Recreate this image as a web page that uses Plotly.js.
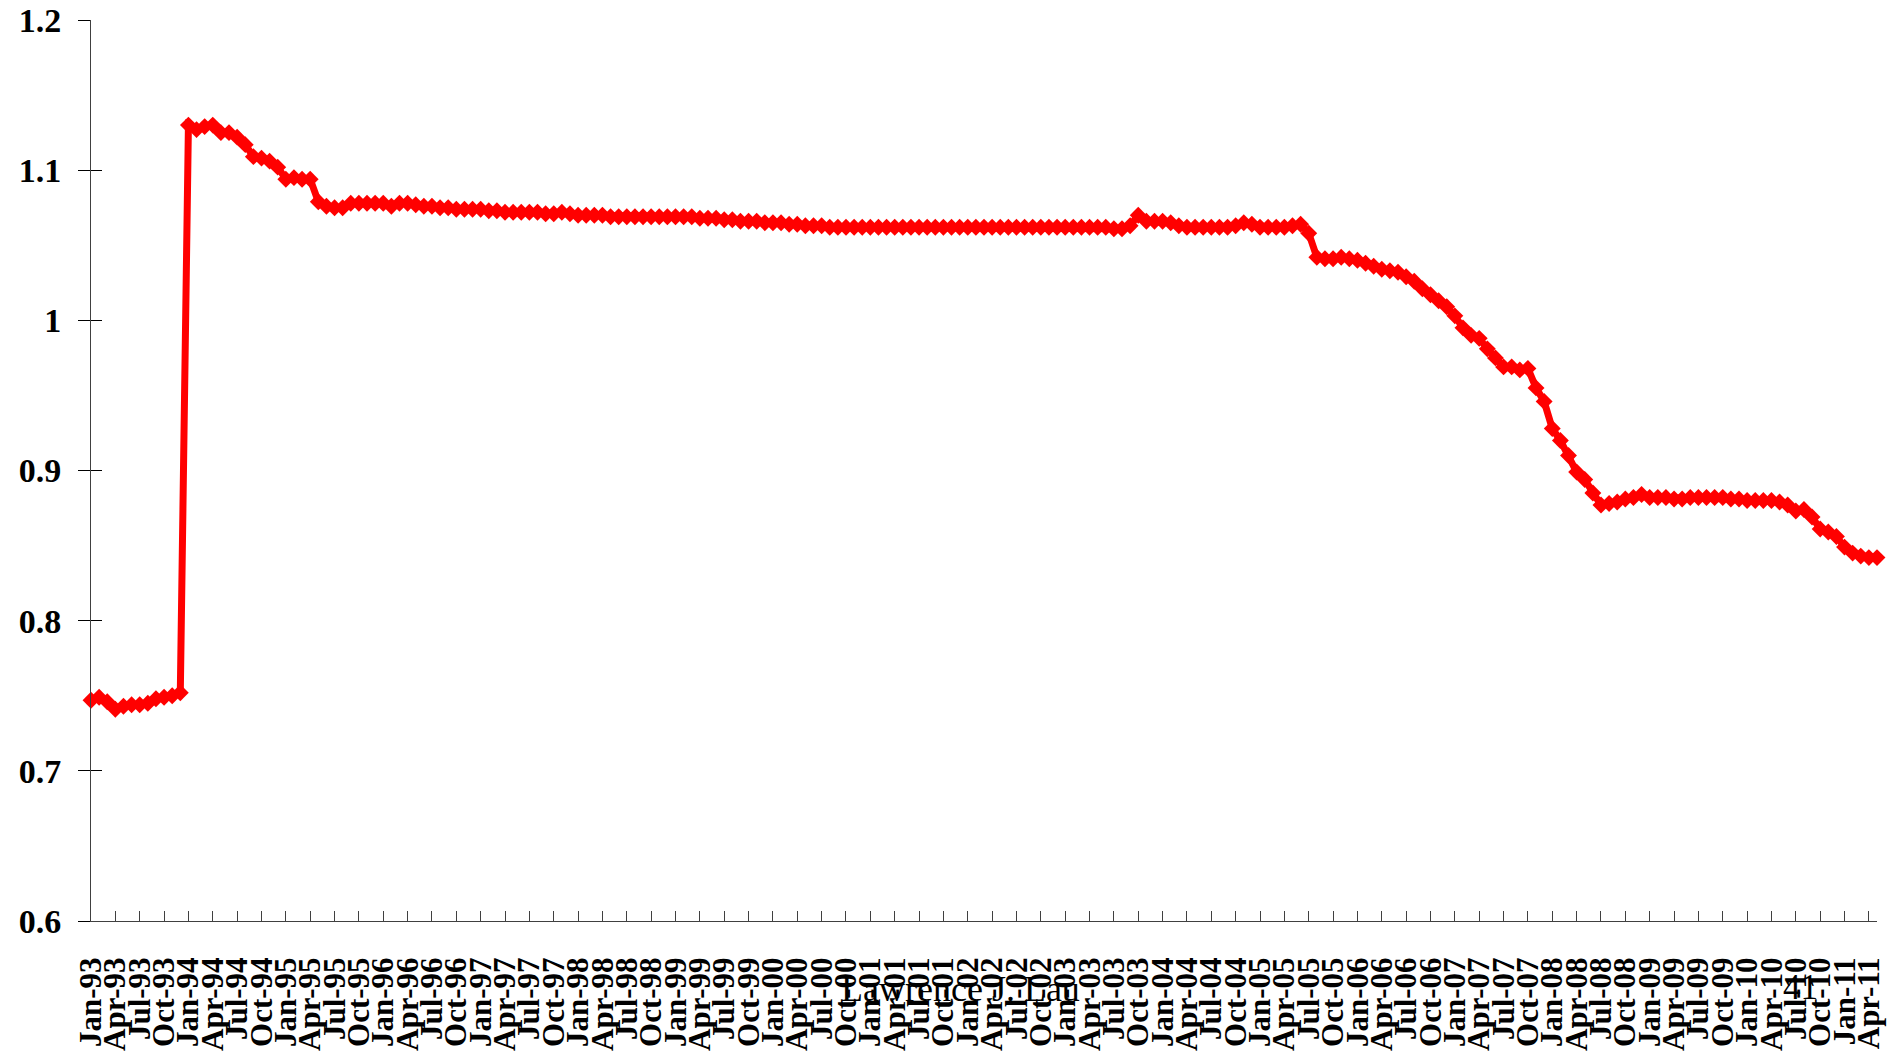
<!DOCTYPE html>
<html>
<head>
<meta charset="utf-8">
<script src="https://cdn.plot.ly/plotly-3.0.1.min.js"></script>
<style>html,body{margin:0;padding:0;background:#fff;}#chart{width:1895px;height:1051px;}</style>
</head>
<body>
<div id="chart"></div>
<script>
// Month labels (Jan-93 .. May-11)
const monthNames = ["Jan","Feb","Mar","Apr","May","Jun","Jul","Aug","Sep","Oct","Nov","Dec"];
const years = ["93","94","95","96","97","98","99","00","01","02","03","04","05","06","07","08","09","10","11"];
const lastYearMonths = 5;

// Series values by year (monthly)
const v1993 = [0.747,0.749,0.746,0.741,0.743,0.744,0.744,0.745,0.748,0.749,0.750,0.752];
const v1994 = [1.130,1.127,1.129,1.130,1.125,1.125,1.122,1.117,1.109,1.108,1.106,1.102];
const v1995 = [1.094,1.095,1.094,1.094,1.079,1.076,1.075,1.075,1.078,1.078,1.078,1.078];
const v1996 = [1.078,1.076,1.078,1.078,1.077,1.076,1.076,1.075,1.075,1.074,1.074,1.074];
const v1997 = [1.074,1.073,1.073,1.072,1.072,1.072,1.072,1.072,1.071,1.071,1.072,1.071];
const v1998 = [1.070,1.070,1.070,1.070,1.069,1.069,1.069,1.069,1.069,1.069,1.069,1.069];
const v1999 = [1.069,1.069,1.069,1.068,1.068,1.068,1.067,1.067,1.066,1.066,1.066,1.065];
const v2000 = [1.065,1.065,1.064,1.064,1.063,1.063,1.063,1.062,1.062,1.062,1.062,1.062];
const v2001 = [1.062,1.062,1.062,1.062,1.062,1.062,1.062,1.062,1.062,1.062,1.062,1.062];
const v2002 = [1.062,1.062,1.062,1.062,1.062,1.062,1.062,1.062,1.062,1.062,1.062,1.062];
const v2003 = [1.062,1.062,1.062,1.062,1.062,1.062,1.061,1.061,1.063,1.070,1.066,1.066];
const v2004 = [1.066,1.065,1.063,1.062,1.062,1.062,1.062,1.062,1.062,1.063,1.065,1.064];
const v2005 = [1.062,1.062,1.062,1.062,1.063,1.064,1.058,1.042,1.041,1.041,1.042,1.041];
const v2006 = [1.040,1.038,1.036,1.034,1.033,1.032,1.029,1.026,1.021,1.017,1.013,1.009];
const v2007 = [1.003,0.995,0.990,0.988,0.981,0.975,0.969,0.969,0.967,0.968,0.955,0.946];
const v2008 = [0.928,0.920,0.910,0.899,0.894,0.885,0.877,0.878,0.879,0.881,0.882,0.884];
const v2009 = [0.882,0.882,0.882,0.881,0.881,0.882,0.882,0.882,0.882,0.882,0.881,0.881];
const v2010 = [0.880,0.880,0.880,0.880,0.879,0.877,0.873,0.874,0.869,0.861,0.859,0.856];
const v2011 = [0.849,0.845,0.843,0.842,0.842];

const values = [].concat(v1993,v1994,v1995,v1996,v1997,v1998,v1999,v2000,v2001,v2002,
  v2003,v2004,v2005,v2006,v2007,v2008,v2009,v2010,v2011);

const categories = [];
years.forEach((yy, k) => {
  const n = (k === years.length - 1) ? lastYearMonths : 12;
  for (let m = 0; m < n; m++) categories.push(monthNames[m] + "-" + yy);
});
const tickLabels = categories.filter((c, i) => i % 3 === 0);

const yTicks = [0.6,0.7,0.8,0.9,1.0,1.1,1.2];

const serif = "'Liberation Serif', 'Times New Roman', serif";
const axisCol = "#404040";

const traces = [
  {
    x: categories, y: values, type: "scatter", mode: "lines+markers",
    line: {color: "#ff0000", width: 7},
    marker: {symbol: "diamond", size: 13, color: "#ff0000"},
    cliponaxis: false, hoverinfo: "x+y"
  },
  {
    x: [categories[0]], y: [values[0]], yaxis: "y2", type: "scatter", mode: "markers",
    marker: {opacity: 0}, hoverinfo: "skip", showlegend: false
  }
];

const layout = {
  width: 1895, height: 1051,
  margin: {l: 91, r: 18, t: 20, b: 130},
  paper_bgcolor: "#ffffff", plot_bgcolor: "#ffffff",
  showlegend: false,
  xaxis: {
    type: "category", range: [0, categories.length - 1],
    tickmode: "array", tickvals: tickLabels, ticktext: tickLabels,
    tickangle: -90, ticks: "inside", ticklen: 10, tickcolor: axisCol, tickwidth: 1,
    showline: true, linecolor: axisCol, linewidth: 1,
    showgrid: false, zeroline: false,
    ticklabelstandoff: 23,
    tickfont: {family: serif, size: 31, color: "#000", weight: "bold"}
  },
  yaxis: {
    range: [0.6, 1.2], tickmode: "array", tickvals: yTicks,
    ticks: "outside", ticklen: 12, tickcolor: "#000", tickwidth: 1,
    showline: true, linecolor: axisCol, linewidth: 1,
    showgrid: false, zeroline: false,
    ticklabelstandoff: 10,
    tickfont: {family: serif, size: 34, color: "#000", weight: "bold"}
  },
  yaxis2: {
    overlaying: "y", side: "left", anchor: "x",
    range: [0.6, 1.2], tickmode: "array", tickvals: yTicks,
    ticks: "inside", ticklen: 11, tickcolor: "#000", tickwidth: 1,
    showticklabels: false, showline: false, showgrid: false, zeroline: false
  },
  annotations: [
    {text: "Lawrence J. Lau", xref: "paper", yref: "paper", x: 0.4867, y: -0.076,
     xanchor: "center", yanchor: "middle", showarrow: false,
     font: {family: serif, size: 36, color: "#000"}},
    {text: "41", xref: "paper", yref: "paper", x: 0.957, y: -0.074,
     xanchor: "center", yanchor: "middle", showarrow: false,
     font: {family: serif, size: 35, color: "#000"}}
  ]
};

Plotly.newPlot("chart", traces, layout, {displayModeBar: false, staticPlot: true});
</script>
</body>
</html>
